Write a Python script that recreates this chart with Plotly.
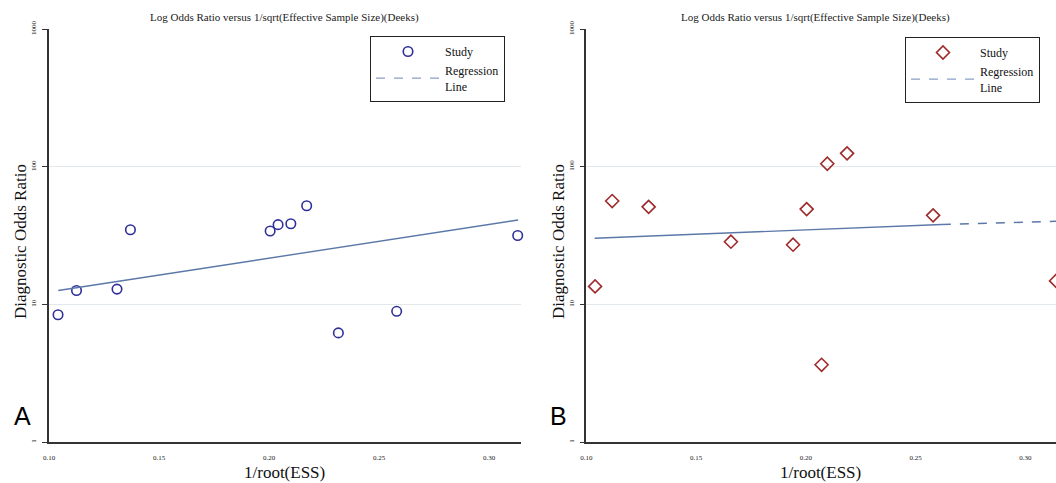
import plotly.graph_objects as go

# ---- data ----
ess_A = [0.1041, 0.1125, 0.1309, 0.1370, 0.2005, 0.2041, 0.2099, 0.2171, 0.2315, 0.2580, 0.3130]
dor_A = [8.4, 12.6, 12.9, 34.8, 34.1, 37.9, 38.5, 52.0, 6.2, 8.9, 31.6]
reg_x_A = [0.1042, 0.3132]
reg_y_A = [12.6, 41.0]

ess_B = [0.1040, 0.1118, 0.1284, 0.1659, 0.1942, 0.2004, 0.2072, 0.2098, 0.2188, 0.2580, 0.3140]
dor_B = [13.5, 56.3, 51.1, 28.5, 27.1, 49.2, 3.64, 105.0, 125.0, 44.3, 14.8]
reg_x_B_solid = [0.1038, 0.2620]
reg_y_B_solid = [30.2, 38.0]
reg_x_B_dash = [0.2620, 0.3140]
reg_y_B_dash = [38.0, 40.1]

y_ticks = [1, 10, 100, 1000]
y_ticktext = ["1", "10", "100", "1000"]
x_ticks = [0.10, 0.15, 0.20, 0.25, 0.30]
x_ticktext = ["0.10", "0.15", "0.20", "0.25", "0.30"]

title_text = "Log Odds Ratio versus 1/sqrt(Effective Sample Size)(Deeks)"
SERIF = "Liberation Serif"
W, H = 1056, 483

circle_col = "#2f2f9a"
diamond_col = "#9e2a2b"
line_col = "#5b78a8"

fig = go.Figure()

# Panel A
fig.add_trace(go.Scatter(x=ess_A, y=dor_A, mode="markers", name="Study",
                         marker=dict(symbol="circle-open", size=9.5, color=circle_col, line=dict(width=1.6)),
                         xaxis="x", yaxis="y", legend="legend", cliponaxis=False))
fig.add_trace(go.Scatter(x=reg_x_A, y=reg_y_A, mode="lines", showlegend=False,
                         line=dict(color=line_col, width=1.4), xaxis="x", yaxis="y"))
fig.add_trace(go.Scatter(x=[None], y=[None], mode="lines", name="Regression<br>Line",
                         line=dict(color="#8a9fc4", width=1.4, dash="dash"),
                         xaxis="x", yaxis="y", legend="legend"))

# Panel B
fig.add_trace(go.Scatter(x=ess_B, y=dor_B, mode="markers", name="Study",
                         marker=dict(symbol="diamond-open", size=10, color=diamond_col, line=dict(width=1.6)),
                         xaxis="x2", yaxis="y2", legend="legend2", cliponaxis=False))
fig.add_trace(go.Scatter(x=reg_x_B_solid, y=reg_y_B_solid, mode="lines", showlegend=False,
                         line=dict(color=line_col, width=1.4), xaxis="x2", yaxis="y2"))
fig.add_trace(go.Scatter(x=reg_x_B_dash, y=reg_y_B_dash, mode="lines", showlegend=False,
                         line=dict(color=line_col, width=1.4, dash="dash"), xaxis="x2", yaxis="y2"))
fig.add_trace(go.Scatter(x=[None], y=[None], mode="lines", name="Regression<br>Line",
                         line=dict(color="#8a9fc4", width=1.4, dash="dash"),
                         xaxis="x2", yaxis="y2", legend="legend2"))

ydom = [(H - 442) / H, (H - 29) / H]

def xaxis(domain, rng, anchor):
    return dict(domain=domain, range=rng, anchor=anchor, showgrid=False, zeroline=False,
                showline=True, linecolor="#333333", linewidth=1.5, ticks="",
                tickmode="array", tickvals=x_ticks, ticktext=x_ticktext,
                tickfont=dict(family=SERIF, size=7, color="#222222"), ticklabelstandoff=8)

def yaxis(anchor):
    return dict(domain=ydom, type="log", range=[0, 3], anchor=anchor, showgrid=False, zeroline=False,
                showline=True, linecolor="#333333", linewidth=1.5, ticks="outside", ticklen=5,
                tickcolor="#333333", tickwidth=1.2,
                tickmode="array", tickvals=y_ticks, ticktext=y_ticktext, tickangle=-90,
                tickfont=dict(family=SERIF, size=7, color="#222222"), ticklabelstandoff=3,
                minor=dict(tickmode="array", tickvals=[10, 100], showgrid=True,
                           gridcolor="#e3e8ec", gridwidth=1.2, ticks=""))

legend_common = dict(bordercolor="#222222", borderwidth=1, bgcolor="white",
                     font=dict(family=SERIF, size=12, color="#111111"),
                     xanchor="left", yanchor="top", itemwidth=64, tracegroupgap=0)

fig.update_layout(
    width=W, height=H, plot_bgcolor="white", paper_bgcolor="white",
    margin=dict(l=0, r=0, t=0, b=0, autoexpand=False),
    xaxis=xaxis([49 / W, 521 / W], [0.10, 0.3145], "y"),
    yaxis=yaxis("x"),
    xaxis2=xaxis([586.3 / W, 1.0], [0.10, 0.314], "y2"),
    yaxis2=yaxis("x2"),
    legend=dict(x=370 / W, y=1 - 36 / H, **legend_common),
    legend2=dict(x=905 / W, y=1 - 37 / H, **legend_common),
    showlegend=True,
)

annots = []
for cx in [284, 815]:
    annots.append(dict(x=cx / W, y=1 - 18 / H, xref="paper", yref="paper", text=title_text,
                       showarrow=False, font=dict(family=SERIF, size=11, color="#222222"),
                       xanchor="center", yanchor="middle"))
for cx in [284, 820]:
    annots.append(dict(x=cx / W, y=1 - 472 / H, xref="paper", yref="paper", text="1/root(ESS)",
                       showarrow=False, font=dict(family=SERIF, size=17, color="#111111"),
                       xanchor="center", yanchor="middle"))
for cx in [20, 558]:
    annots.append(dict(x=cx / W, y=1 - 242 / H, xref="paper", yref="paper", text="Diagnostic Odds Ratio",
                       showarrow=False, textangle=-90, font=dict(family=SERIF, size=17, color="#111111"),
                       xanchor="center", yanchor="middle"))
for cx, letter in [(22, "A"), (558, "B")]:
    annots.append(dict(x=cx / W, y=1 - 416 / H, xref="paper", yref="paper", text=letter,
                       showarrow=False, font=dict(family="Liberation Sans", size=25, color="#000000"),
                       xanchor="center", yanchor="middle"))
fig.update_layout(annotations=annots)

fig.write_html("out.html", config={"displayModeBar": False},
               post_script="document.body.style.margin='0';document.body.style.overflow='hidden';")
